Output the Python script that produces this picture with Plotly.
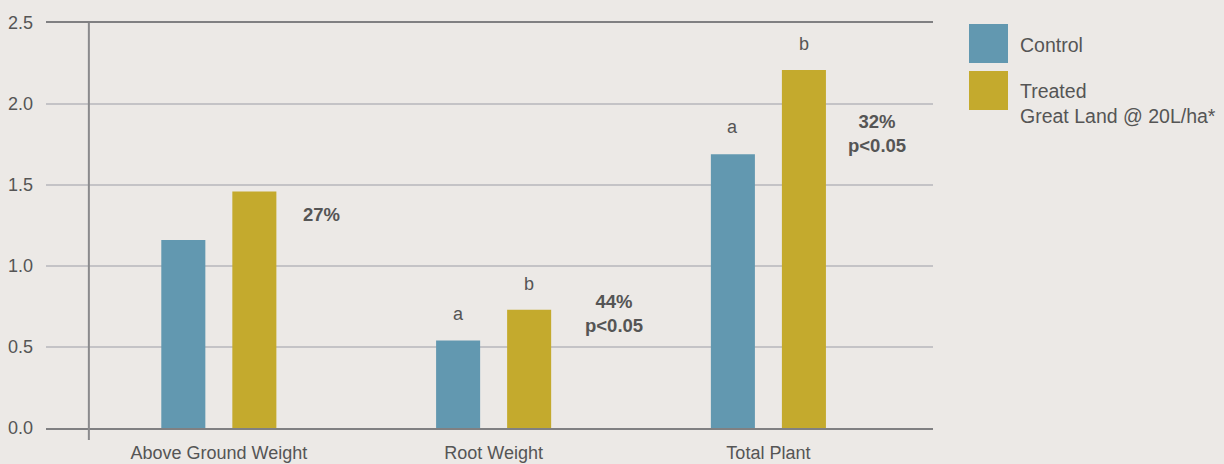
import plotly.graph_objects as go

categories = ["Above Ground Weight", "Root Weight", "Total Plant"]
control = [1.16, 0.54, 1.69]
treated = [1.46, 0.73, 2.21]
control_letters = ["", "a", "a"]
treated_letters = ["", "b", "b"]
pct_labels = ["27%", "44%<br>p<0.05", "32%<br>p<0.05"]
series_names = ["Control", "Treated<br>Great Land @ 20L/ha*"]
y_ticks = [0.0, 0.5, 1.0, 1.5, 2.0, 2.5]

C_CONTROL = "#6298B0"
C_TREATED = "#C4AA2D"
BG = "#ECE9E6"
TXT = "#555555"
FONT = "Liberation Sans, Arial, sans-serif"

W, H = 1224, 464
ML, MR, MT, MB = 46, 291, 23, 36
PW, PH = W - ML - MR, H - MT - MB


def px_x(p):
    return (p - ML) / PW


def px_y(p):
    return (H - MB - p) / PH


fig = go.Figure()
fig.add_trace(go.Bar(x=categories, y=control, name="Control", marker_color=C_CONTROL,
                     marker_line_width=0, showlegend=False))
fig.add_trace(go.Bar(x=categories, y=treated, name="Treated", marker_color=C_TREATED,
                     marker_line_width=0, showlegend=False))

annotations = []
BAR_OFF = 35.5
for i, c in enumerate(categories):
    if control_letters[i]:
        annotations.append(dict(x=c, y=control[i], text=control_letters[i], xref="x", yref="y",
                                showarrow=False, xshift=-BAR_OFF, yshift=15, yanchor="bottom",
                                font=dict(family=FONT, size=18, color=TXT)))
    if treated_letters[i]:
        annotations.append(dict(x=c, y=treated[i], text=treated_letters[i], xref="x", yref="y",
                                showarrow=False, xshift=BAR_OFF, yshift=14, yanchor="bottom",
                                font=dict(family=FONT, size=18, color=TXT)))

pct_xshift = [103, 120, 109]
pct_yshift = [-23, -4, -64]
for i, c in enumerate(categories):
    annotations.append(dict(x=c, y=treated[i], text="<b>" + pct_labels[i] + "</b>", xref="x", yref="y",
                            showarrow=False, xshift=pct_xshift[i], yshift=pct_yshift[i],
                            yanchor="middle", align="center",
                            font=dict(family=FONT, size=18.5, color=TXT)))

# manual legend (large swatches)
shapes = []
sw_top = [24, 71]
colors = [C_CONTROL, C_TREATED]
text_y = [45, 104]
for k in range(2):
    shapes.append(dict(type="rect", xref="paper", yref="paper",
                       x0=px_x(969), x1=px_x(1008), y0=px_y(sw_top[k] + 39), y1=px_y(sw_top[k]),
                       fillcolor=colors[k], line_width=0))
    annotations.append(dict(x=px_x(1018), y=px_y(text_y[k]), xref="paper", yref="paper",
                            text=series_names[k], showarrow=False, xanchor="left", yanchor="middle",
                            align="left", font=dict(family=FONT, size=19.5, color=TXT)))

# vertical axis line
shapes.append(dict(type="line", xref="x", yref="paper", x0=-0.473, x1=-0.473,
                   y0=-12 / PH, y1=1, line=dict(color="#8A8A8C", width=2)))

fig.update_layout(
    width=W, height=H, autosize=False,
    margin=dict(l=ML, r=MR, t=MT, b=MB, pad=0, autoexpand=False),
    paper_bgcolor=BG, plot_bgcolor=BG,
    barmode="group", bargap=0.483, bargroupgap=0.38,
    shapes=shapes, annotations=annotations,
    showlegend=False, hovermode=False,
    font=dict(family=FONT, color=TXT),
)
fig.update_xaxes(type="category", range=[-0.629, 2.599], showgrid=False, automargin=False,
                 showline=True, mirror=True, linecolor="#808082", linewidth=2,
                 ticks="", ticklabelstandoff=7,
                 tickfont=dict(family=FONT, size=18, color=TXT), zeroline=False)
fig.update_yaxes(range=[0, 2.5], tickvals=y_ticks, ticktext=[f"{v:.1f}" for v in y_ticks],
                 automargin=False,
                 showgrid=True, gridcolor="#C4C3C6", gridwidth=2, zeroline=False,
                 showline=False, ticks="", ticklabelstandoff=12,
                 tickfont=dict(family=FONT, size=18, color=TXT))

fig.write_html("out.html", config={"displayModeBar": False, "staticPlot": True},
               post_script="document.body.style.margin='0';document.body.style.background='%s';"
                           "document.body.style.overflow='hidden';" % BG)
